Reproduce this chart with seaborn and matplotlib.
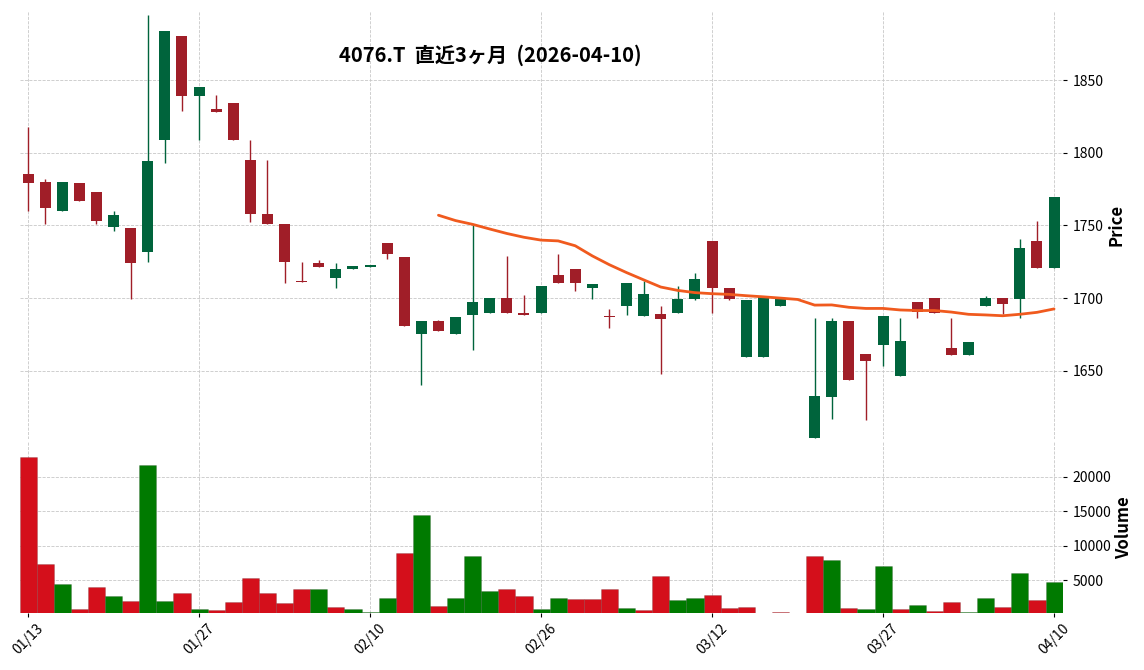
"""
4076.T candlestick chart for the last three months, with 25-day MA and volume.
"""

import matplotlib
matplotlib.use("Agg")
import matplotlib.pyplot as plt
import numpy as np
import pandas as pd
import seaborn as sns

# trading days (TSE holidays removed)
dates = pd.bdate_range("2026-01-13", "2026-04-10", freq="C",
                       holidays=["2026-02-11", "2026-02-23", "2026-03-20"])

opens = [1785, 1780, 1760, 1779, 1773, 1749, 1748, 1732, 1809, 1880,
         1839, 1830, 1834, 1795, 1758, 1751, 1712, 1724, 1714, 1720,
         1721, 1738, 1728, 1675, 1684, 1675, 1688, 1690, 1700, 1690,
         1690, 1716, 1720, 1707, 1687.5, 1694.5, 1687.5, 1689, 1689.5, 1699.5,
         1739, 1707, 1659.5, 1659.5, 1694.5, 1700, 1604, 1632, 1684, 1661.5,
         1668, 1646.5, 1697, 1700, 1665.5, 1661, 1694.5, 1700, 1699.5, 1739.5,
         1720.5]
highs = [1818, 1782, 1780, 1779, 1773, 1760, 1748, 1895, 1884, 1880,
         1845, 1840, 1834, 1809, 1795, 1751, 1725, 1726, 1724, 1722,
         1723, 1738, 1728, 1684, 1685, 1687, 1751, 1700, 1729, 1702,
         1708, 1730, 1720, 1709.5, 1692.5, 1710.5, 1712, 1694.5, 1708, 1717,
         1739, 1707, 1698.5, 1700.5, 1700, 1700, 1686, 1686, 1684, 1661.5,
         1687.5, 1686, 1697, 1700, 1686, 1669.5, 1701.5, 1700, 1740.5, 1753,
         1769.5]
lows = [1760, 1751, 1760, 1767, 1751, 1746, 1699, 1725, 1793, 1829,
        1809, 1828, 1809, 1752, 1751, 1710, 1711, 1721, 1707, 1720,
        1721, 1727, 1681, 1640, 1677, 1675, 1664, 1690, 1690, 1688,
        1690, 1710, 1705, 1699.5, 1679.5, 1688.5, 1687.5, 1648, 1689.5, 1698.5,
        1690, 1698.5, 1659.5, 1659.5, 1694.5, 1700, 1604, 1617, 1643.5, 1616,
        1653, 1646.5, 1686, 1690, 1661, 1661, 1694.5, 1689, 1686, 1720.5,
        1720.5]
closes = [1779, 1762, 1780, 1767, 1753, 1757, 1724, 1794, 1884, 1839,
          1845, 1828, 1809, 1758, 1751, 1725, 1711, 1721, 1720, 1722,
          1723, 1730, 1681, 1684, 1677, 1687, 1697, 1700, 1690, 1688,
          1708, 1710.5, 1710, 1709.5, 1687, 1710.5, 1703, 1685.5, 1699.5, 1713,
          1707, 1699, 1698.5, 1700.5, 1700, 1700, 1632.5, 1684, 1643.5, 1657,
          1687.5, 1670.5, 1690.5, 1690, 1661, 1669.5, 1700, 1696, 1734.5, 1720.5,
          1769.5]
volumes = [22850, 7370, 4470, 850, 4040, 2740, 2010, 21690, 2010, 3170,
           850, 710, 1870, 5340, 3170, 1720, 3750, 3750, 1140, 850,
           420, 2450, 8960, 14460, 1290, 2450, 8520, 3460, 3750, 2740,
           850, 2450, 2300, 2300, 3750, 1000, 710, 5630, 2160, 2450,
           2880, 1000, 1140, 0, 420, 0, 8520, 7950, 1000, 850,
           7080, 850, 1430, 560, 1870, 420, 2450, 1140, 6070, 2160,
           4760]

TITLE = "4076.T  直近3ヶ月  (2026-04-10)"
MA_WINDOW = 25

CANDLE_UP = "#00643c"
CANDLE_DOWN = "#a01e28"
VOL_UP = "#007a00"
VOL_DOWN = "#d40f1b"
MA_COLOR = "#f05a1e"

df = pd.DataFrame({"open": opens, "high": highs, "low": lows,
                   "close": closes, "volume": volumes}, index=dates)
df["idx"] = np.arange(len(df))
df["ma"] = df["close"].rolling(MA_WINDOW).mean()
up = df["close"] >= df["open"]
# volume colour follows the change from the previous close
prev = df["close"].shift(1).fillna(df["open"])
df["vdir"] = np.where(df["close"] >= prev, "up", "down")

sns.set_theme(style="whitegrid")
plt.rcParams["font.family"] = ["Noto Sans CJK JP", "DejaVu Sans"]

fig = plt.figure(figsize=(11.44, 6.70), dpi=100)
ax_p = fig.add_axes([0.01705, 0.3448, 0.9118, 0.6388])
ax_v = fig.add_axes([0.01705, 0.0855, 0.9118, 0.2548], sharex=ax_p)

# candles
ccolors = np.where(up, CANDLE_UP, CANDLE_DOWN)
ax_p.vlines(df["idx"], df["low"], df["high"], colors=ccolors,
            linewidth=1.0, capstyle="butt", zorder=2)
ax_p.bar(df["idx"], (df["close"] - df["open"]).abs(),
         bottom=df[["open", "close"]].min(axis=1), width=0.64,
         color=ccolors, linewidth=0, zorder=3)

ma = df.dropna(subset=["ma"])
sns.lineplot(x=ma["idx"], y=ma["ma"], ax=ax_p, color=MA_COLOR,
             linewidth=2, zorder=4, legend=False)

# volume
sns.barplot(data=df, x="idx", y="volume", hue="vdir",
            palette={"up": VOL_UP, "down": VOL_DOWN}, native_scale=True,
            dodge=False, width=1.0, errorbar=None, saturation=1,
            legend=False, linewidth=0.5, edgecolor="#00000030", ax=ax_v)

ax_p.set_ylim(1603, 1897.5)
ax_p.set_yticks([1650, 1700, 1750, 1800, 1850])
ax_v.set_ylim(300, 25000)
ax_v.set_yticks([5000, 10000, 15000, 20000])
ax_v.set_xlim(-0.5, len(df) - 0.5)

tick_pos = df["idx"].iloc[::10]
ax_v.set_xticks(tick_pos)
ax_v.set_xticklabels(df.index[::10].strftime("%m/%d"), rotation=45, fontsize=10)

for ax in (ax_p, ax_v):
    ax.set_facecolor("white")
    ax.grid(True, linestyle="--", color="#c8c8c8", linewidth=0.6)
    ax.set_axisbelow(True)
    for s in ax.spines.values():
        s.set_visible(False)
    ax.yaxis.set_label_position("right")
    ax.tick_params(axis="y", left=False, right=True, labelleft=False,
                   labelright=True, length=3, width=0.8, color="black",
                   labelsize=10, pad=4, labelcolor="black")
    ax.set_xlabel("")

ax_p.tick_params(axis="x", bottom=False, labelbottom=False)
ax_v.tick_params(axis="x", bottom=True, length=3, width=0.8, color="black",
                 labelcolor="black", pad=3)

ax_p.set_ylabel("Price", fontsize=12, fontweight="bold", color="black", labelpad=3)
ax_v.set_ylabel("Volume", fontsize=12, fontweight="bold", color="black", labelpad=3)

fig.text(0.429, 0.917, TITLE, ha="center", va="center", fontsize=14.5,
         fontweight="bold", color="black")

fig.savefig("out.png", dpi=100)
